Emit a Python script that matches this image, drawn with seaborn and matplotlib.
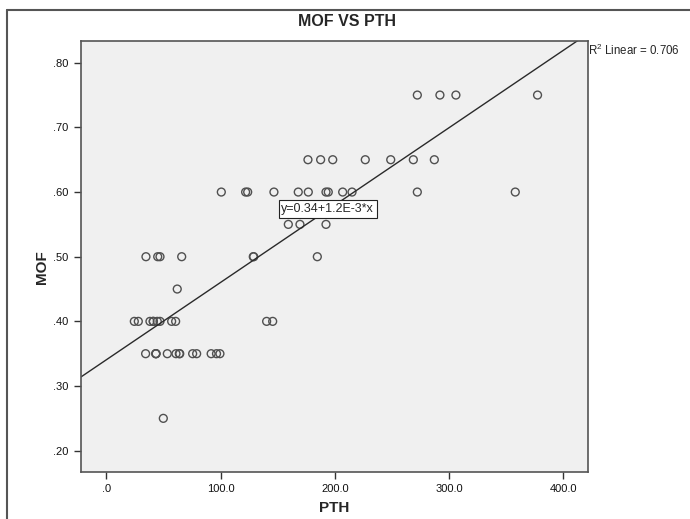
import numpy as np
import pandas as pd
import matplotlib
matplotlib.use("Agg")
import matplotlib.pyplot as plt
from matplotlib.lines import Line2D
import seaborn as sns

# ---- data ----
mof_075 = [272.3, 292.1, 306.1, 377.6]
mof_065 = [176.5, 187.6, 198.2, 226.7, 249.0, 268.8, 287.2]
mof_060 = [100.6, 121.9, 123.7, 146.7, 168.0, 176.8, 192.3, 194.3, 206.9, 215.1, 272.3, 358.1]
mof_055 = [159.3, 169.5, 192.3]
mof_050 = [34.6, 44.9, 46.9, 65.9, 128.6, 129.0, 184.7]
mof_045 = [62.0]
mof_040 = [24.4, 27.9, 38.1, 41.0, 41.0, 44.5, 46.9, 57.1, 60.6, 140.3, 145.6]
mof_035 = [34.3, 43.2, 43.2, 43.5, 53.3, 60.9, 63.8, 64.2, 75.5, 79.0, 91.7, 96.4, 99.4]
mof_025 = [49.8]

rows = {0.75: mof_075, 0.65: mof_065, 0.60: mof_060, 0.55: mof_055,
        0.50: mof_050, 0.45: mof_045, 0.40: mof_040, 0.35: mof_035, 0.25: mof_025}
pth = []
mof = []
for level, xs in rows.items():
    pth += xs
    mof += [level] * len(xs)
df = pd.DataFrame({"PTH": pth, "MOF": mof})

x_ticks = [0, 100, 200, 300, 400]
x_ticklabels = [".0", "100.0", "200.0", "300.0", "400.0"]
y_ticks = [0.20, 0.30, 0.40, 0.50, 0.60, 0.70, 0.80]
y_ticklabels = [".20", ".30", ".40", ".50", ".60", ".70", ".80"]
r2_text = "R$^2$ Linear = 0.706"
eq_text = "y=0.34+1.2E-3*x"

# ---- style ----
sns.set_style("white")
plt.rcParams["font.family"] = ["Liberation Sans", "DejaVu Sans"]
plt.rcParams["mathtext.fontset"] = "custom"
plt.rcParams["mathtext.rm"] = "Liberation Sans"

W, H = 690, 519
fig = plt.figure(figsize=(W / 100, H / 100), dpi=100)
L, R, T, B = 81, 588, 41, 471.7
ax = fig.add_axes([L / W, 1 - B / H, (R - L) / W, (B - T) / H])
ax.set_facecolor("#F0F0F0")

xlim = (-22.3, 421.8)
ylim = (0.1675, 0.8336)
ax.set_xlim(xlim)
ax.set_ylim(ylim)

sns.scatterplot(data=df, x="PTH", y="MOF", ax=ax, marker="o", s=32,
                facecolor="none", edgecolor="#505050", linewidth=1.0, legend=False)
sns.regplot(data=df, x="PTH", y="MOF", ax=ax, scatter=False, ci=None,
            truncate=False, line_kws=dict(color="#2a2a2a", linewidth=1.0))
ax.set_xlim(xlim)
ax.set_ylim(ylim)

ax.set_xticks(x_ticks)
ax.set_xticklabels(x_ticklabels)
ax.set_yticks(y_ticks)
ax.set_yticklabels(y_ticklabels)
ax.tick_params(axis="both", direction="out", length=5, width=1, color="#333333",
               labelsize=8, labelcolor="#111111", pad=4, bottom=True, left=True)
for sp in ax.spines.values():
    sp.set_color("#555555")
    sp.set_linewidth(1.2)

ax.set_xlabel("")
ax.set_ylabel("")
fig.text(334 / W, 1 - 508 / H, "PTH", ha="center", va="center",
         fontsize=11, fontweight="bold")
fig.text(42 / W, 1 - 267 / H, "MOF", ha="center", va="center",
         fontsize=11, fontweight="bold", rotation=90)
fig.text(347 / W, 1 - 22 / H, "MOF VS PTH", ha="center", va="center",
         fontsize=11.5, fontweight="bold")
fig.text(588 / W, 1 - 50 / H, r2_text, ha="left", va="center", fontsize=8.3)

fig.text(327.7 / W, 1 - 209 / H, eq_text, ha="center", va="center", fontsize=9,
         bbox=dict(boxstyle="square,pad=0.22", facecolor="white", edgecolor="#222222",
                   linewidth=0.8))

# outer frame lines
fig.add_artist(Line2D([7 / W, 7 / W], [0, 1 - 10 / H], transform=fig.transFigure,
                      color="#555555", linewidth=1.5))
fig.add_artist(Line2D([7 / W, 1], [1 - 10 / H, 1 - 10 / H], transform=fig.transFigure,
                      color="#555555", linewidth=1.5))

fig.savefig("out.png", dpi=100)
